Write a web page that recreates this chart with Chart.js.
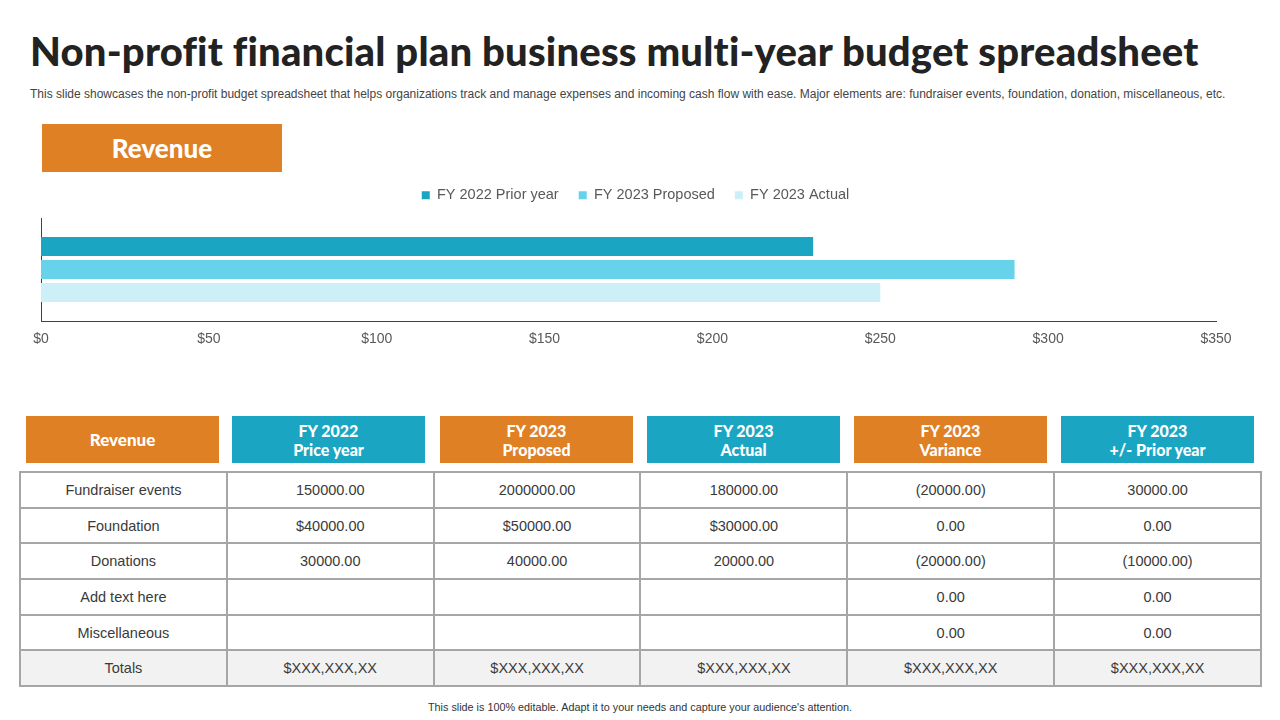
<!DOCTYPE html>
<html>
<head>
<meta charset="utf-8">
<script src="https://cdn.jsdelivr.net/npm/chart.js@4.4.0/dist/chart.umd.min.js"></script>
<style>
  html, body { margin: 0; padding: 0; background: #fff; }
  body { width: 1280px; height: 720px; position: relative; overflow: hidden; font-family: "Liberation Sans", Arial, sans-serif; }
  #title { position: absolute; left: 30px; top: 27px; font-family: "Lato", sans-serif; font-weight: 900; font-size: 40px; letter-spacing: 0.2px; color: #222; white-space: nowrap; }
  #subtitle { position: absolute; left: 30px; top: 87px; font-size: 12px; color: #444; white-space: nowrap; }
  #revBox { position: absolute; left: 42px; top: 124px; width: 240px; height: 48px; background: #DF8024; color: #fff; font-family: "Lato", sans-serif; font-weight: 900; font-size: 26px; line-height: 48px; text-align: center; }
  #chartWrap { position: absolute; left: 0; top: 168px; width: 1280px; height: 188px; }
  .hdr { position: absolute; top: 416px; height: 47px; width: 193px; color: #fff; font-family: "Lato", sans-serif; font-weight: 900; font-size: 16px; line-height: 19px; text-align: center; display: flex; align-items: center; justify-content: center; }
  table { position: absolute; left: 19px; top: 471px; width: 1243px; table-layout: fixed; border-collapse: collapse; }
  tr { height: 35.7px; }
  td { border: 2px solid #A6A6A6; padding: 0; text-align: center; font-size: 14.5px; color: #3a3a3a; }
  tr.tot td { background: #F2F2F2; }
  #footer { position: absolute; left: 0; width: 1280px; top: 701px; text-align: center; font-size: 10.8px; color: #333; }
</style>
</head>
<body>
<div id="title">Non-profit financial plan business multi-year budget spreadsheet</div>
<div id="subtitle">This slide showcases the non-profit budget spreadsheet that helps organizations track and manage expenses and incoming cash flow with ease. Major elements are: fundraiser events, foundation, donation, miscellaneous, etc.</div>
<div id="revBox">Revenue</div>
<div id="chartWrap"><canvas id="revenueChart"></canvas></div>
<div id="headers"></div>
<table id="budgetTable"></table>
<div id="footer">This slide is 100% editable. Adapt it to your needs and capture your audience's attention.</div>

<script>
// chart data
var categories = ["Revenue"];
var seriesNames = ["FY 2022 Prior year", "FY 2023 Proposed", "FY 2023 Actual"];
var priorYear = [230];
var proposed = [290];
var actual = [250];
var tickValues = [0, 50, 100, 150, 200, 250, 300, 350];

// table data
var headerLabels = ["Revenue", "FY 2022<br>Price year", "FY 2023<br>Proposed", "FY 2023<br>Actual", "FY 2023<br>Variance", "FY 2023<br>+/- Prior year"];
var rowNames = ["Fundraiser events", "Foundation", "Donations", "Add text here", "Miscellaneous", "Totals"];
var colPrice = ["150000.00", "$40000.00", "30000.00", "", "", "$XXX,XXX,XX"];
var colProposed = ["2000000.00", "$50000.00", "40000.00", "", "", "$XXX,XXX,XX"];
var colActual = ["180000.00", "$30000.00", "20000.00", "", "", "$XXX,XXX,XX"];
var colVariance = ["(20000.00)", "0.00", "(20000.00)", "0.00", "0.00", "$XXX,XXX,XX"];
var colPrior = ["30000.00", "0.00", "(10000.00)", "0.00", "0.00", "$XXX,XXX,XX"];

var orange = "#DF8024";
var teal = "#1AA6C3";

document.addEventListener("DOMContentLoaded", function () {
    // header boxes
    var hdrLeft = [26, 232, 440, 647, 854, 1061];
    var hdrColors = [orange, teal, orange, teal, orange, teal];
    var headers = document.getElementById("headers");
    headerLabels.forEach(function (label, i) {
        var d = document.createElement("div");
        d.className = "hdr";
        d.style.left = hdrLeft[i] + "px";
        d.style.background = hdrColors[i];
        if (i === 0) d.style.fontSize = "17px";
        d.innerHTML = "<span>" + label + "</span>";
        headers.appendChild(d);
    });

    // table body
    var table = document.getElementById("budgetTable");
    var cols = [rowNames, colPrice, colProposed, colActual, colVariance, colPrior];
    rowNames.forEach(function (name, r) {
        var tr = document.createElement("tr");
        if (name === "Totals") tr.className = "tot";
        cols.forEach(function (col) {
            var td = document.createElement("td");
            td.textContent = col[r];
            tr.appendChild(td);
        });
        table.appendChild(tr);
    });

    // chart
    var ctx = document.getElementById("revenueChart").getContext("2d");
    var myChart = new Chart(ctx, {
        type: "bar",
        data: {
            labels: categories,
            datasets: [
                { label: seriesNames[0], data: priorYear, backgroundColor: teal },
                { label: seriesNames[1], data: proposed, backgroundColor: "#66D3EA" },
                { label: seriesNames[2], data: actual, backgroundColor: "#CDEFF7" },
            ],
        },
        options: {
            indexAxis: "y",
            responsive: true,
            maintainAspectRatio: false,
            animation: false,
            layout: { padding: { left: 41, right: 64, top: 0, bottom: 0 } },
            datasets: { bar: { categoryPercentage: 0.67, barPercentage: 0.83 } },
            plugins: {
                tooltip: { enabled: false },
                legend: {
                    position: "top",
                    labels: {
                        boxWidth: 8,
                        boxHeight: 8,
                        padding: 20,
                        color: "#595959",
                        font: { family: "Liberation Sans, Arial", size: 14.5 },
                    },
                },
            },
            scales: {
                x: {
                    min: 0,
                    max: 350,
                    afterBuildTicks: function (axis) {
                        axis.ticks = tickValues.map(function (v) { return { value: v }; });
                    },
                    grid: { display: false, drawTicks: false },
                    border: { display: true, color: "#404040", width: 1 },
                    ticks: {
                        padding: 10,
                        color: "#595959",
                        font: { family: "Liberation Sans, Arial", size: 14 },
                        callback: function (v) { return "$" + v; },
                    },
                    afterFit: function (axis) { axis.height = 35; },
                },
                y: {
                    grid: { display: false, drawTicks: false },
                    border: { display: true, color: "#404040", width: 1 },
                    ticks: { display: false },
                    afterFit: function (axis) { axis.width = 0; },
                },
            },
        },
        plugins: [{
            id: "legendPlace",
            beforeInit: function (chart) {
                var fit = chart.legend.fit;
                chart.legend.fit = function () {
                    fit.bind(chart.legend)();
                    this.height = 50;
                };
            },
            afterLayout: function (chart) {
                // legend sits a little right of the plot centre in the slide
                chart.legend.left += 7;
                chart.legend.right += 7;
            },
        }],
    });
});
</script>
</body>
</html>
